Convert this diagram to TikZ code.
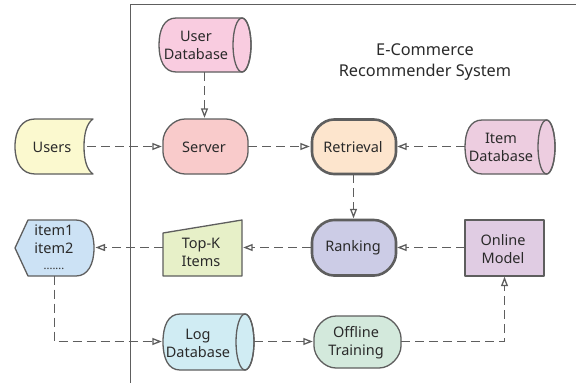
\documentclass[tikz,border=0pt]{standalone}
\usepackage{fontspec}
\setmainfont{Noto Sans}
\usetikzlibrary{arrows.meta}
\definecolor{ln}{HTML}{5E5E5E}
\definecolor{txt}{HTML}{2A2A2A}
\definecolor{UserDB}{HTML}{F9CCE0}
\definecolor{ItemDB}{HTML}{EDCDE0}
\definecolor{LogDB}{HTML}{D0ECF3}
\definecolor{ServerC}{HTML}{F9CBCB}
\definecolor{RetrC}{HTML}{FDE5CD}
\definecolor{RankC}{HTML}{CCCCE6}
\definecolor{OffC}{HTML}{D3E9DC}
\definecolor{UsersC}{HTML}{FBF9CF}
\definecolor{ListC}{HTML}{CCE2F5}
\definecolor{TopC}{HTML}{E7F0C8}
\definecolor{OnlC}{HTML}{E0CCE3}
\tikzset{
  x=1pt,y=-1pt,
  shp/.style={draw=ln,line width=1.3pt,line join=round},
  thick box/.style={draw=ln,line width=2.6pt,line join=round},
  lbl/.style={inner sep=0pt,align=center,font=\fontsize{14.5}{18}\selectfont,text=txt},
  conn/.style={draw=ln,line width=1.8pt,dash pattern=on 9pt off 5pt,
     -{Triangle[open,length=9.5pt,width=7pt,line width=1.3pt]}},
  box/.style={inner sep=0pt,draw=none,fill=none},
}
\newcommand{\cyl}[6]{% x1 x2 y1 y2 ellipse-rx colour
  \pgfmathsetmacro{\cx}{#2-#5}\pgfmathsetmacro{\my}{(#3+#4)/2}\pgfmathsetmacro{\ry}{(#4-#3)/2}
  \path[shp,fill=#6] (#1+17,#3) -- (\cx,#3) arc[start angle=-90,end angle=90,x radius=#5,y radius=\ry]
    -- (#1+17,#4) .. controls (#1+5,#4) and (#1,#4-12) .. (#1,\my)
    .. controls (#1,#3+12) and (#1+5,#3) .. (#1+17,#3) -- cycle;
  \draw[shp] (\cx,\my) ellipse[x radius=#5,y radius=\ry];
}
\newcommand{\term}[6]{% x1 x2 y1 y2 r style/colour
  \path[#6] (#1+#5,#3) -- (#2-#5,#3) .. controls (#2-#5*0.45,#3) and (#2,#3+#5*0.55) .. (#2,#3+#5)
    -- (#2,#4-#5) .. controls (#2,#4-#5*0.55) and (#2-#5*0.45,#4) .. (#2-#5,#4)
    -- (#1+#5,#4) .. controls (#1+#5*0.45,#4) and (#1,#4-#5*0.55) .. (#1,#4-#5)
    -- (#1,#3+#5) .. controls (#1,#3+#5*0.55) and (#1+#5*0.45,#3) .. (#1+#5,#3) -- cycle;
}
\begin{document}
\begin{tikzpicture}
\useasboundingbox (0,0) rectangle (576,383);
\fill[white] (0,0) rectangle (576,383);
\draw[draw=ln,line width=1.7pt] (576,4.5) -- (130.5,4.5) -- (130.5,383);

% shapes
\cyl{159}{251}{18}{72}{9}{UserDB}
\cyl{465}{555}{120}{174}{8.5}{ItemDB}
\cyl{163}{254}{314}{370}{9}{LogDB}
\term{163}{248}{119}{174}{22}{shp,fill=ServerC}
\term{312}{396}{119.5}{174}{22}{thick box,fill=RetrC}
\term{312}{396}{220}{275.5}{22}{thick box,fill=RankC}
\term{314}{401}{316}{368}{22}{shp,fill=OffC}
\draw[shp,fill=UsersC] (93,119) -- (35,119) .. controls (22,119) and (15,130) .. (15,146.5)
  .. controls (15,163) and (22,174) .. (35,174) -- (93,174)
  .. controls (87,170) and (84,160) .. (84,146.5) .. controls (84,133) and (87,123) .. (93,119) -- cycle;
\draw[shp,fill=ListC] (15,248) -- (28,220) -- (76,220) .. controls (88,220) and (94,232) .. (94,248)
  .. controls (94,264) and (88,276) .. (76,276) -- (28,276) -- cycle;
\draw[shp,fill=TopC] (163,233) -- (242,220) -- (242,276) -- (163,276) -- cycle;
\draw[shp,fill=OnlC] (465,220) rectangle (544,276);

% labels
\node[lbl,font=\fontsize{16.3}{20.5}\selectfont] (title) at (425,62) {E-Commerce\\Recommender System};
\node[lbl] (userdbT) at (196,45.5) {User\\Database};
\node[lbl] (itemdbT) at (501,147) {Item\\Database};
\node[lbl] (logdbT) at (198,343) {Log\\Database};
\node[lbl] (usersT) at (52,147) {Users};
\node[lbl] (serverT) at (204,147) {Server};
\node[lbl] (retrT) at (353,147) {Retrieval};
\node[lbl] (rankT) at (353,248) {Ranking};
\node[lbl] (onlT) at (503,249) {Online\\Model};
\node[lbl] (offT) at (356,343) {Offline\\Training};
\node[lbl] (topT) at (201,252) {Top-K\\Items};
\node[lbl,anchor=north] (listT) at (54,225) {item1\\item2\\[-2pt]\fontsize{11}{11}\selectfont .......};

% anchor boxes
\node[box,minimum width=72,minimum height=55] (users) at (51,146.5) {};
\node[box,minimum width=85,minimum height=55] (server) at (205.5,146.5) {};
\node[box,minimum width=85,minimum height=55] (retr) at (353.5,146.5) {};
\node[box,minimum width=85,minimum height=56] (rank) at (353.5,247.5) {};
\node[box,minimum width=90,minimum height=54] (itemdb) at (510,146.5) {};
\node[box,minimum width=92,minimum height=54] (userdb) at (204.5,45) {};
\node[box,minimum width=79,minimum height=56] (top) at (202.5,247.5) {};
\node[box,minimum width=79,minimum height=56] (list) at (54.5,247.5) {};
\node[box,minimum width=79,minimum height=56] (onl) at (504.5,247.5) {};
\node[box,minimum width=91,minimum height=56] (logdb) at (208.5,341.5) {};
\node[box,minimum width=87,minimum height=52] (off) at (357.5,341.5) {};
\coordinate (listR) at (95.5,247.5);

% connectors
\draw[conn] (users.east) -- ([xshift=-1pt]server.west);
\draw[conn] (userdb.south) -- ([yshift=1pt]userdb.south |- server.north);
\draw[conn] (server.east) -- ([xshift=-1pt]retr.west);
\draw[conn] (itemdb.west) -- ([xshift=1pt]retr.east);
\draw[conn] (retr.south) -- ([yshift=1pt]rank.north);
\draw[conn] (onl.west) -- ([xshift=1pt]rank.east);
\draw[conn] (rank.west) -- ([xshift=1pt]top.east);
\draw[conn] (top.west) -- (listR);
\draw[conn] (list.south) |- ([xshift=-1pt]logdb.west);
\draw[conn] (logdb.east) -- ([xshift=-1pt]off.west);
\draw[conn] (off.east) -| ([yshift=-1pt]onl.south);
\end{tikzpicture}
\end{document}
